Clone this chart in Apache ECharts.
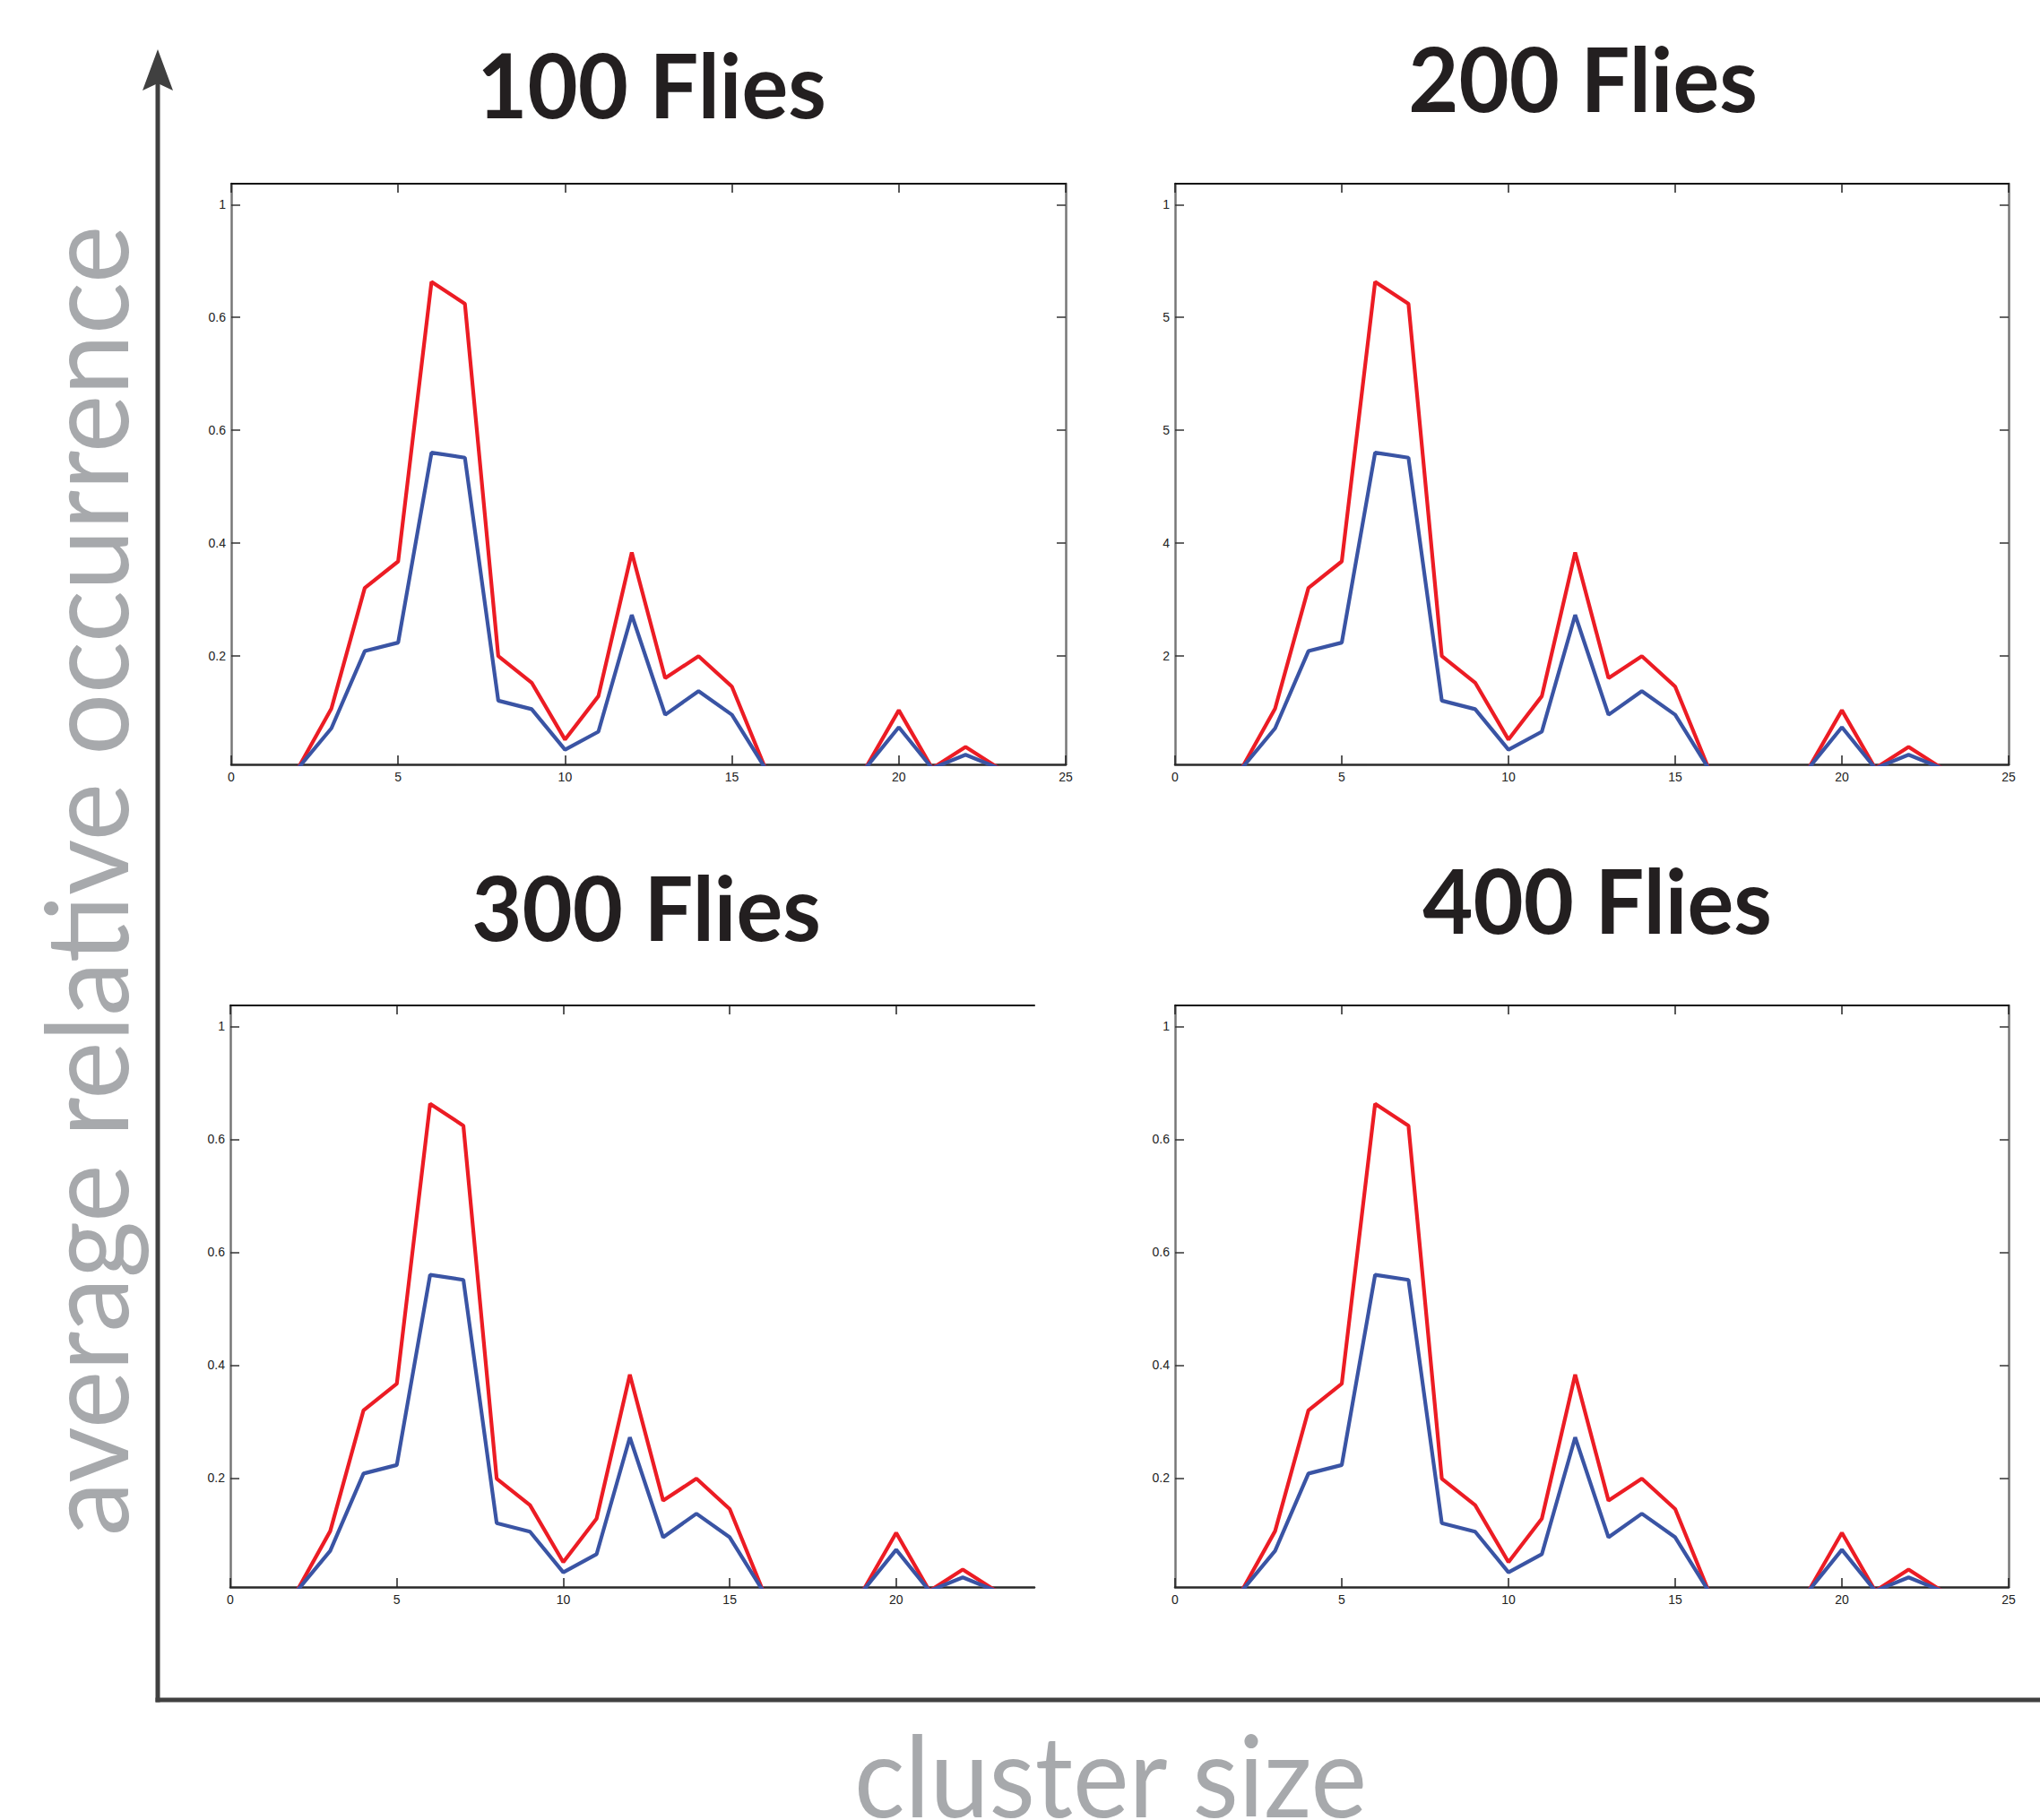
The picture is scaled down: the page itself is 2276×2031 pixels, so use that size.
<!DOCTYPE html>
<html>
<head>
<meta charset="utf-8">
<script src="https://cdn.jsdelivr.net/npm/echarts@6/dist/echarts.min.js"></script>
<style>
html,body{margin:0;padding:0;background:#ffffff;}
#chart{width:2276px;height:2031px;}
</style>
</head>
<body>
<div id="chart"></div>
<script>
// ---------------- data ----------------
const clusterSizes = [1, 2, 3, 4, 5, 6, 7, 8, 9, 10, 11, 12, 13, 14, 15, 16, 17, 18, 19, 20, 21, 22, 23];
const redValues  = [0, 0, 0.106, 0.320, 0.367, 0.863, 0.824, 0.199, 0.152, 0.051, 0.128, 0.383, 0.160, 0.199, 0.145, 0, 0, 0, 0, 0.103, 0, 0.038, 0];
const blueValues = [0, 0, 0.071, 0.208, 0.223, 0.560, 0.551, 0.120, 0.105, 0.033, 0.065, 0.272, 0.095, 0.137, 0.095, 0, 0, 0, 0, 0.073, 0, 0.024, 0];

const panelTitles = ['100 Flies', '200 Flies', '300 Flies', '400 Flies'];
const xTickValues = [0, 5, 10, 15, 20, 25];
const xTickValuesCropped = [0, 5, 10, 15, 20];
const yTickValues = [0.2, 0.4, 0.6, 0.8, 1];
const yTickLabels = ['0.2', '0.4', '0.6', '0.6', '1'];
const yTickLabelsClipped = ['2', '4', '5', '5', '1'];
const yAxisTitle = 'average relative occurrence';
const xAxisTitle = 'cluster size';

// ---------------- layout / style ----------------
const Y_MIN = 0.007, Y_MAX = 1.037;
const RED = '#ec1c24', BLUE = '#3a54a4';
const GRAY_TEXT = '#a7a9ac', DARK = '#404040';
const tickFont = 'Liberation Sans Narrow, Liberation Sans, Arial, sans-serif';
const bigFont = 'Lato, Open Sans, sans-serif';

const panels = [
  {left: 258,  top: 205,  width: 931, height: 648, xMax: 25,    xTicks: xTickValues,        yLabels: yTickLabels,        right: true,  tx: 727,  ty: 93},
  {left: 1311, top: 205,  width: 930, height: 648, xMax: 25,    xTicks: xTickValues,        yLabels: yTickLabelsClipped, right: true,  tx: 1766, ty: 86},
  {left: 257,  top: 1122, width: 897, height: 649, xMax: 24.15, xTicks: xTickValuesCropped, yLabels: yTickLabels,        right: false, tx: 721,  ty: 1011},
  {left: 1311, top: 1122, width: 930, height: 649, xMax: 25,    xTicks: xTickValues,        yLabels: yTickLabels,        right: true,  tx: 1782, ty: 1003}
];

const grid = [], xAxis = [], yAxis = [], series = [], graphic = [];

panels.forEach((p, i) => {
  grid.push({left: p.left, top: p.top, width: p.width, height: p.height, containLabel: false});
  const xb = xAxis.length;
  // bottom x axis
  xAxis.push({
    type: 'value', gridIndex: i, position: 'bottom', min: 0, max: p.xMax,
    axisLine: {show: true, onZero: false, lineStyle: {color: '#2a2a2a', width: 2.5}},
    axisTick: {show: true, inside: true, length: 10, customValues: p.xTicks, lineStyle: {color: '#222', width: 1.5}},
    axisLabel: {show: true, customValues: p.xTicks, margin: 7, fontSize: 14, color: '#222', fontFamily: tickFont},
    splitLine: {show: false}
  });
  // top x axis (mirror box)
  xAxis.push({
    type: 'value', gridIndex: i, position: 'top', min: 0, max: p.xMax,
    axisLine: {show: true, onZero: false, lineStyle: {color: '#111', width: 2}},
    axisTick: {show: true, inside: true, length: 10, customValues: p.xTicks, lineStyle: {color: '#222', width: 1.5}},
    axisLabel: {show: false},
    splitLine: {show: false}
  });
  const yl = yAxis.length;
  const labels = p.yLabels;
  yAxis.push({
    type: 'value', gridIndex: i, position: 'left', min: Y_MIN, max: Y_MAX,
    axisLine: {show: true, onZero: false, lineStyle: {color: '#777', width: 2.5}},
    axisTick: {show: true, inside: true, length: 10, customValues: yTickValues, lineStyle: {color: '#333', width: 1.5}},
    axisLabel: {
      show: true, customValues: yTickValues, margin: 6, fontSize: 14, color: '#222', fontFamily: tickFont,
      formatter: function (v) {
        const k = yTickValues.findIndex(t => Math.abs(t - v) < 1e-6);
        return k >= 0 ? labels[k] : '';
      }
    },
    splitLine: {show: false}
  });
  if (p.right) {
    yAxis.push({
      type: 'value', gridIndex: i, position: 'right', min: Y_MIN, max: Y_MAX,
      axisLine: {show: true, onZero: false, lineStyle: {color: '#777', width: 2.5}},
      axisTick: {show: true, inside: true, length: 10, customValues: yTickValues, lineStyle: {color: '#333', width: 1.5}},
      axisLabel: {show: false},
      splitLine: {show: false}
    });
  }
  series.push({
    type: 'line', xAxisIndex: xb, yAxisIndex: yl, symbol: 'none', clip: true, z: 2,
    lineStyle: {color: RED, width: 4.2}, silent: true,
    data: clusterSizes.map((c, k) => [c, redValues[k]])
  });
  series.push({
    type: 'line', xAxisIndex: xb, yAxisIndex: yl, symbol: 'none', clip: true, z: 3,
    lineStyle: {color: BLUE, width: 4.2}, silent: true,
    data: clusterSizes.map((c, k) => [c, blueValues[k]])
  });
  graphic.push({
    type: 'text', x: p.tx, y: p.ty, silent: true, scaleX: 0.97,
    style: {text: panelTitles[i], fontSize: 100, fontWeight: 'bold', fontFamily: bigFont, fill: '#231f20', align: 'center', verticalAlign: 'middle'}
  });
});

// big outer axes
graphic.push({type: 'line', silent: true, shape: {x1: 176, y1: 92, x2: 176, y2: 1899.5}, style: {stroke: DARK, lineWidth: 5}});
graphic.push({type: 'line', silent: true, shape: {x1: 173.5, y1: 1897, x2: 2276, y2: 1897}, style: {stroke: DARK, lineWidth: 5}});
graphic.push({type: 'polygon', silent: true, shape: {points: [[176, 55], [159, 101], [176, 93], [193, 101]]}, style: {fill: DARK}});
graphic.push({
  type: 'text', x: 94, y: 983, rotation: Math.PI / 2, scaleX: 0.95, silent: true,
  style: {text: yAxisTitle, fontSize: 128, fontFamily: bigFont, fontWeight: 'normal', fill: GRAY_TEXT, align: 'center', verticalAlign: 'middle'}
});
graphic.push({
  type: 'text', x: 1239, y: 1979, scaleX: 0.94, silent: true,
  style: {text: xAxisTitle, fontSize: 126, fontFamily: bigFont, fontWeight: 'normal', fill: GRAY_TEXT, align: 'center', verticalAlign: 'middle'}
});

const chart = echarts.init(document.getElementById('chart'), null, {renderer: 'svg', width: 2276, height: 2031});
chart.setOption({
  backgroundColor: '#ffffff',
  animation: false,
  grid: grid,
  xAxis: xAxis,
  yAxis: yAxis,
  series: series,
  graphic: graphic
});
</script>
</body>
</html>
